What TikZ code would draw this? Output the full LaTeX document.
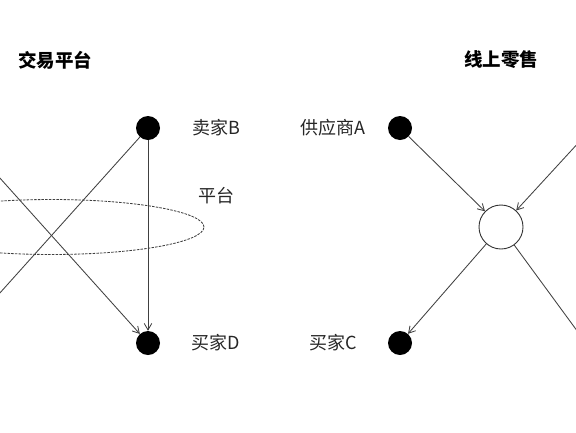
\documentclass[tikz,border=0pt]{standalone}
\usepackage{fontspec}
\setmainfont{Noto Sans CJK SC}
\usetikzlibrary{arrows.meta}
\tikzset{
  dot/.style={circle,fill=black,minimum size=24pt,inner sep=0pt},
  hub/.style={circle,draw=black!80,line width=0.9pt,fill=white,minimum size=44pt,inner sep=0pt},
  lbl/.style={inner sep=0pt,text=black!85,font=\fontsize{18}{20}\selectfont},
  ttl/.style={inner sep=0pt,font=\fontsize{18.5}{20}\selectfont\bfseries},
  conn/.style={draw=black!75,line width=0.85pt},
  arr/.style={conn,-{Straight Barb[length=6.5pt,width=7.5pt]}},
}
\begin{document}
\begin{tikzpicture}[x=1pt,y=-1pt]
\useasboundingbox (0,0) rectangle (576,432);
\clip (0,0) rectangle (576,432);
% left: trading platform
\node[ttl] (t1) at (55,60) {交易平台};
\node[dot] (B) at (148,128) {};
\node[dot] (D) at (148,343) {};
\coordinate (sA) at (-45,128);
\coordinate (bC) at (-45,343);
\node[lbl] (lB) at (216,128) {卖家B};
\node[lbl] (lD) at (216,343) {买家D};
\node[lbl] (lP) at (216,196) {平台};
\draw[conn,dash pattern=on 2.5pt off 1.2pt] (51.5,227) ellipse [x radius=152.5pt, y radius=27.5pt];
\draw[arr] (sA) -- (D);
\draw[arr] (B) -- (bC);
\draw[arr] (B) -- (D);
% right: online retail
\node[ttl] (t2) at (501,60) {线上零售};
\node[dot] (A) at (400,128) {};
\node[dot] (C) at (400,343) {};
\node[hub] (P) at (501,227) {};
\coordinate (sB) at (592,128);
\coordinate (bD) at (586,343);
\node[lbl] (lA) at (333,128) {供应商A};
\node[lbl] (lC) at (333,343) {买家C};
\draw[arr] (A) -- (P);
\draw[arr] (sB) -- (P);
\draw[arr] (P) -- (C);
\draw[arr] (P) -- (bD);
\end{tikzpicture}
\end{document}
